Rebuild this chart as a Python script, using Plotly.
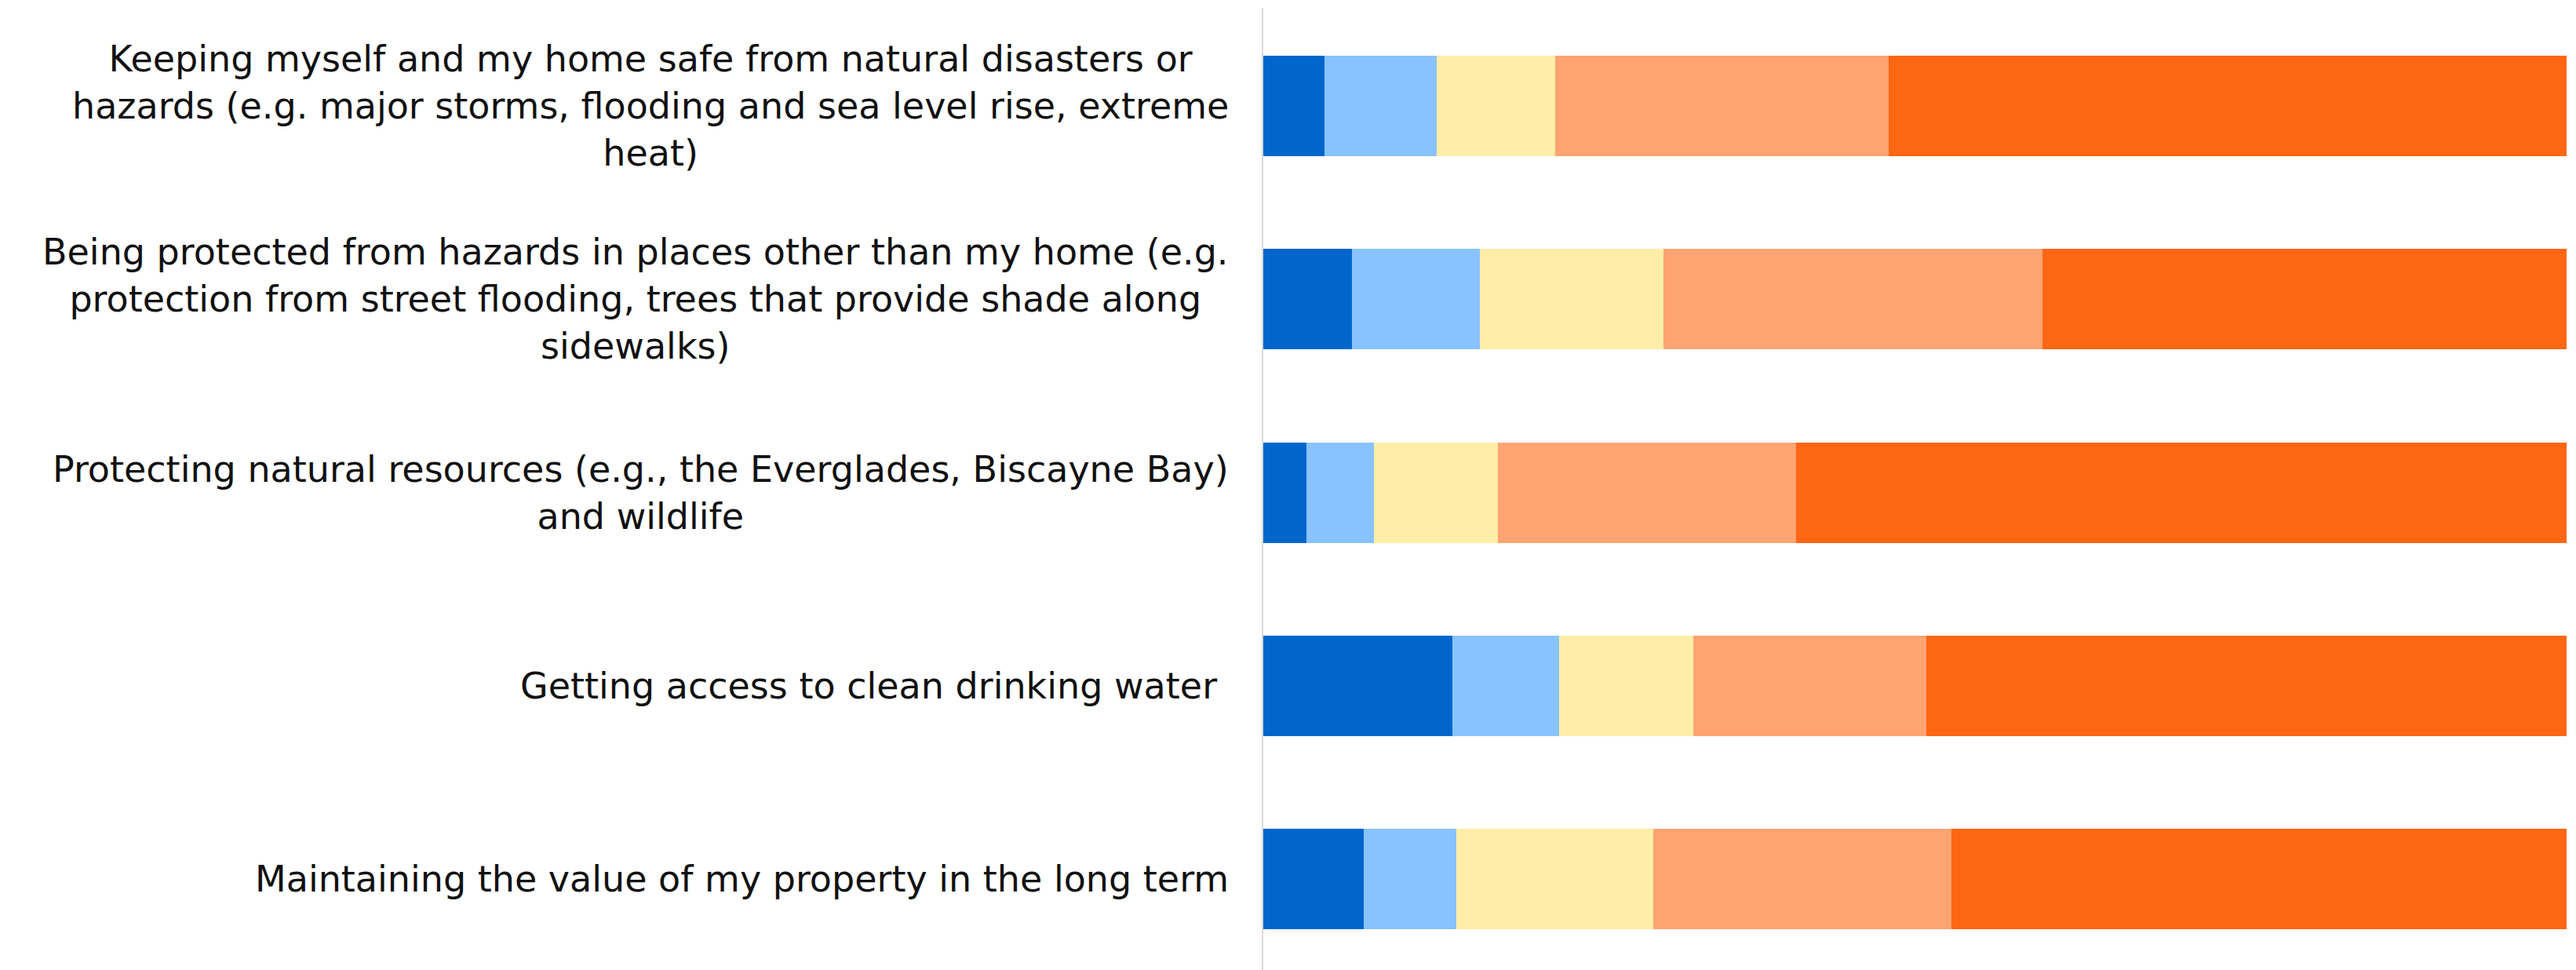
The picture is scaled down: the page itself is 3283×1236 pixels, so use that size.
import plotly.graph_objects as go

categories = [
    "Keeping myself and my home safe from natural disasters or<br>hazards (e.g. major storms, flooding and sea level rise, extreme<br>heat)",
    "Being protected from hazards in places other than my home (e.g.<br>protection from street flooding, trees that provide shade along<br>sidewalks)",
    "Protecting natural resources (e.g., the Everglades, Biscayne Bay)<br>and wildlife",
    "Getting access to clean drinking water ",
    "Maintaining the value of my property in the long term",
]

series_names = [
    "Not at all important",
    "Slightly important",
    "Moderately important",
    "Very important",
    "Extremely important",
]

not_at_all = [4.7, 6.8, 3.3, 14.5, 7.7]
slightly = [8.6, 9.8, 5.2, 8.2, 7.1]
moderately = [9.1, 14.1, 9.5, 10.3, 15.1]
very = [25.6, 29.1, 22.9, 17.9, 22.9]
extremely = [52.0, 40.2, 59.1, 49.1, 47.2]

colors = ["#0066CC", "#88C2FF", "#FFEDA8", "#FFA472", "#FD6613"]

values = [not_at_all, slightly, moderately, very, extremely]

ypos = list(range(len(categories)))

fig = go.Figure()
for name, vals, col in zip(series_names, values, colors):
    fig.add_trace(go.Bar(
        x=vals, y=ypos, orientation="h", name=name,
        marker=dict(color=col, line=dict(width=0)),
        width=0.52,
    ))

for i, cat in enumerate(categories):
    fig.add_annotation(
        x=0, xref="paper", y=i, yref="y",
        text=cat, showarrow=False,
        xanchor="right", yanchor="middle", align="center",
        xshift=-42,
        font=dict(family="DejaVu Sans", size=46, color="#111111"),
    )

fig.update_layout(
    width=3283, height=1236,
    barmode="stack",
    showlegend=False,
    plot_bgcolor="white", paper_bgcolor="white",
    margin=dict(l=1602, r=20, t=2, b=0),
    xaxis=dict(range=[0, 100], visible=False, fixedrange=True),
    yaxis=dict(range=[4.503, -0.508], showticklabels=False, showgrid=False,
               zeroline=False, showline=True, linecolor="#d9d9d9", linewidth=2,
               ticks=""),
)

fig.write_html("out.html")
